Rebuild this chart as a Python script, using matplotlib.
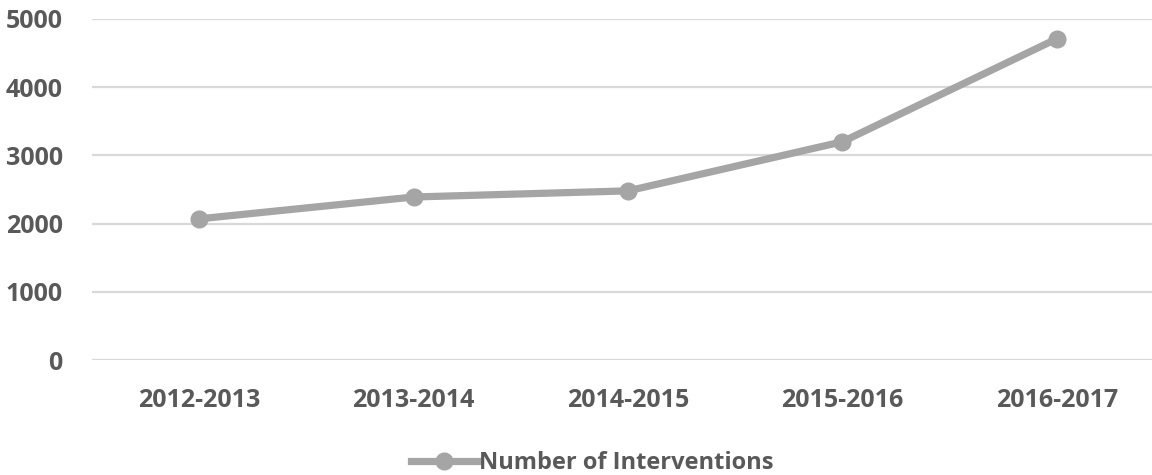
import matplotlib.pyplot as plt
from matplotlib.lines import Line2D

years = ["2012-2013", "2013-2014", "2014-2015", "2015-2016", "2016-2017"]
interventions = [2070, 2390, 2480, 3200, 4710]
y_ticks = [0, 1000, 2000, 3000, 4000, 5000]

line_color = "#A5A5A5"
text_color = "#595959"
grid_color = "#D9D9D9"

plt.rcParams["font.family"] = ["Open Sans", "DejaVu Sans"]

fig = plt.figure(figsize=(11.52, 4.75), dpi=100)
ax = fig.add_axes([92 / 1152, 1 - 360 / 475, 1072 / 1152, 341 / 475])

x = list(range(len(years)))
ax.plot(x, interventions, color=line_color, linewidth=5.2, marker="o",
        markersize=12, solid_capstyle="round", zorder=3)

ax.set_xlim(-0.5, len(years) - 0.5)
ax.set_ylim(0, 5000)
ax.set_yticks(y_ticks)
ax.set_yticklabels([str(v) for v in y_ticks])
ax.set_xticks(x)
ax.set_xticklabels(years)

for v in y_ticks:
    ax.axhline(v, color=grid_color, linewidth=1.6, zorder=1)

for s in ax.spines.values():
    s.set_visible(False)
ax.tick_params(axis="both", length=0, labelcolor=text_color, labelsize=18)
ax.tick_params(axis="y", pad=21)
ax.tick_params(axis="x", pad=20)
for lbl in ax.get_xticklabels() + ax.get_yticklabels():
    lbl.set_fontweight("bold")

handle = Line2D([], [], color=line_color, linewidth=5.2, marker="o", markersize=12)
fig.legend([handle], ["Number of Interventions"], loc="center",
           bbox_to_anchor=(592 / 1152, 1 - 463 / 475), frameon=False,
           prop={"weight": "bold", "size": 17}, labelcolor=text_color,
           handlelength=2.85, handletextpad=0.05)

fig.savefig("out.png", dpi=100)
